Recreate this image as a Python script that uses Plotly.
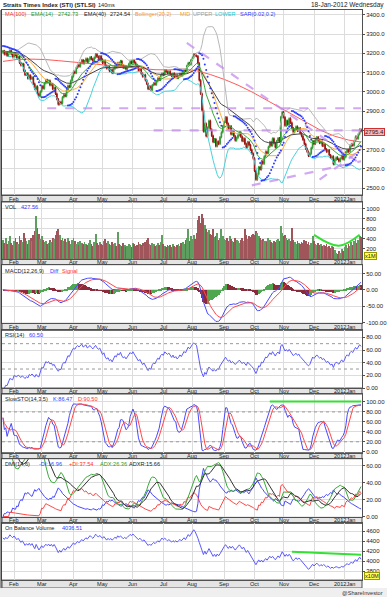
import numpy as np
import pandas as pd
import plotly.graph_objects as go

# ---------------- DATA ----------------
dates = pd.bdate_range("2011-01-20", "2012-01-18")

close = [
    3212, 3195, 3205, 3188, 3200, 3215, 3196, 3180, 3198, 3190,
    3175, 3182, 3150, 3138, 3145, 3110, 3088, 3096, 3070, 3085,
    3068, 3075, 3042, 3015, 3028, 2990, 2978, 3002, 3030, 3018,
    3045, 3062, 3050, 3058, 3035, 3041, 3015, 3022, 2990, 2962,
    2935, 2948, 2940, 2972, 2985, 2978, 3010, 3032, 3025, 3058,
    3080, 3105, 3098, 3125, 3140, 3132, 3150, 3165, 3148, 3160,
    3172, 3155, 3168, 3180, 3170, 3162, 3178, 3195, 3183, 3175,
    3185, 3168, 3150, 3162, 3135, 3122, 3130, 3108, 3115, 3098,
    3120, 3135, 3128, 3150, 3142, 3160, 3138, 3125, 3132, 3118,
    3130, 3145, 3158, 3150, 3165, 3152, 3140, 3128, 3110, 3118,
    3095, 3080, 3088, 3060, 3042, 3015, 3028, 3010, 3035, 3045,
    3038, 3055, 3070, 3062, 3085, 3095, 3088, 3112, 3105, 3098,
    3106, 3090, 3082, 3095, 3078, 3086, 3072, 3080, 3094, 3085,
    3098, 3115, 3108, 3135, 3150, 3142, 3165, 3178, 3195, 3188,
    3185, 3148, 3060, 2990, 2905, 2795, 2835, 2770, 2815, 2850,
    2805, 2772, 2740, 2755, 2718, 2742, 2730, 2765, 2790, 2822,
    2845, 2868, 2835, 2810, 2822, 2780, 2795, 2770, 2748, 2762,
    2775, 2790, 2768, 2745, 2758, 2730, 2712, 2740, 2725, 2700,
    2680, 2655, 2590, 2545, 2572, 2610, 2598, 2640, 2628, 2665,
    2690, 2682, 2715, 2740, 2722, 2758, 2735, 2712, 2745, 2760,
    2742, 2870, 2895, 2868, 2825, 2850, 2830, 2862, 2840, 2812,
    2790, 2805, 2820, 2798, 2812, 2785, 2770, 2752, 2730, 2705,
    2690, 2668, 2680, 2710, 2745, 2730, 2752, 2765, 2748, 2735,
    2742, 2720, 2728, 2702, 2690, 2698, 2672, 2658, 2665, 2625,
    2648, 2660, 2652, 2640, 2655, 2668, 2650, 2662, 2688, 2700,
    2690, 2718, 2730, 2722, 2745, 2768, 2758, 2780, 2805, 2795.4,
]

volume = [
    380, 320, 410, 290, 350, 450, 310, 280, 360, 420,
    340, 300, 460, 380, 330, 520, 410, 350, 300, 380,
    420, 360, 480, 550, 860, 620, 500, 400, 450, 380,
    330, 360, 290, 310, 380, 340, 420, 390, 480, 560,
    600, 470, 380, 420, 360, 390, 330, 410, 350, 300,
    380, 420, 350, 300, 330, 280, 360, 310, 290, 340,
    300, 270, 320, 380, 290, 260, 340, 500, 310, 280,
    330, 300, 280, 350, 390, 320, 360, 300, 270, 340,
    290, 310, 260, 540, 300, 280, 250, 320, 270, 240,
    260, 300, 280, 230, 310, 290, 250, 270, 330, 300,
    280, 310, 260, 340, 380, 420, 300, 280, 320, 290,
    260, 280, 310, 270, 330, 480, 300, 260, 240, 280,
    250, 270, 230, 290, 260, 240, 280, 300, 260, 310,
    340, 290, 380, 420, 600, 360, 450, 400, 480, 390,
    520, 780, 860, 720, 900, 820, 680, 600, 540, 580,
    500, 470, 600, 430, 460, 520, 380, 420, 600, 450,
    400, 380, 420, 350, 460, 390, 360, 340, 410, 380,
    350, 320, 380, 420, 360, 600, 480, 400, 450, 430,
    470, 500, 480, 550, 520, 460, 420, 380, 400, 350,
    360, 330, 420, 380, 340, 310, 360, 330, 380, 400,
    350, 660, 520, 450, 480, 420, 380, 400, 350, 620,
    380, 340, 300, 360, 320, 290, 340, 310, 380, 350,
    300, 330, 280, 310, 450, 360, 300, 280, 320, 270,
    300, 260, 280, 250, 290, 240, 260, 220, 250, 230,
    180, 120, 90, 150, 110, 200, 160, 240, 280, 220,
    300, 260, 340, 280, 360, 400, 320, 380, 450, 427.56,
]

# MA(100) every 10 sessions
ma100_idx = [0, 10, 20, 30, 40, 50, 60, 70, 80, 90, 100, 110, 120, 130,
             140, 150, 160, 170, 180, 190, 200, 210, 220, 230, 240, 250, 259]
ma100_val = [3158, 3168, 3170, 3168, 3162, 3155, 3148, 3142, 3134, 3126, 3120,
             3115, 3114, 3118, 3110, 3090, 3065, 3035, 3000, 2960, 2920, 2880,
             2840, 2800, 2770, 2750, 2740]

first_open = 3205
obv_start = 4470

# hand-drawn lines on the reference (session index, value)
down_tl_x, down_tl_y = [133, 259], [3254, 2625]
up_tl1_x, up_tl1_y = [180, 259], [2515, 2640]
up_tl2_x, up_tl2_y = [229, 259], [2545, 2700]
hz1_x, hz1_y = [32, 259], [2915, 2915]
hz2_x, hz2_y = [109, 259], [2800, 2800]
vol_curve_x, vol_curve_y = [225, 243, 258], [480, 260, 480]
sto_line_x, sto_line_y = [193, 259], [101, 101]
obv_line_x, obv_line_y = [209, 259], [4190, 4130]

month_labels = ["Feb", "Mar", "Apr", "May", "Jun", "Jul", "Aug", "Sep",
                "Oct", "Nov", "Dec", "2012Jan"]

assert len(dates) == len(close) == len(volume) == 260

# ---------------- INDICATORS ----------------
n = len(close)
x = np.arange(n)
c = pd.Series(close, dtype=float)
o = c.shift(1).fillna(first_open)
WICK = 6
hi = np.maximum(o, c) + WICK
lo = np.minimum(o, c) - WICK
v = pd.Series(volume, dtype=float)

ema14 = c.ewm(span=14, adjust=False).mean()
ema40 = c.ewm(span=40, adjust=False).mean()
bb_mid = c.rolling(20, min_periods=5).mean()
bb_std = c.rolling(20, min_periods=5).std(ddof=0)
bb_up = bb_mid + 2 * bb_std
bb_lo = bb_mid - 2 * bb_std


def psar(high, low, af0=0.02, afmax=0.2):
    high = np.asarray(high); low = np.asarray(low)
    m = len(high)
    sar = np.zeros(m)
    bull = False
    af = af0
    ep = low[0]
    sar[0] = high[0] + 20
    for i in range(1, m):
        s = sar[i - 1] + af * (ep - sar[i - 1])
        if bull:
            s = min(s, low[i - 1], low[max(i - 2, 0)])
            if low[i] < s:
                bull = False; s = ep; ep = low[i]; af = af0
            elif high[i] > ep:
                ep = high[i]; af = min(af + af0, afmax)
        else:
            s = max(s, high[i - 1], high[max(i - 2, 0)])
            if high[i] > s:
                bull = True; s = ep; ep = high[i]; af = af0
            elif low[i] < ep:
                ep = low[i]; af = min(af + af0, afmax)
        sar[i] = s
    return sar


sar = psar(hi, lo)

macd = c.ewm(span=12, adjust=False).mean() - c.ewm(span=26, adjust=False).mean()
signal = macd.ewm(span=9, adjust=False).mean()
hist = macd - signal
hist_col = ["#4fa84f" if (i > 0 and hist[i] >= hist[i - 1]) else "#8b2a3a" for i in range(n)]

d = c.diff()
ag = d.clip(lower=0).ewm(alpha=1 / 14, adjust=False).mean()
al = (-d.clip(upper=0)).ewm(alpha=1 / 14, adjust=False).mean()
rsi = 100 - 100 / (1 + ag / al)

hs = pd.Series(hi); ls = pd.Series(lo)
ll = ls.rolling(14, min_periods=1).min()
hh = hs.rolling(14, min_periods=1).max()
fk = 100 * (c - ll) / (hh - ll)
sk = fk.rolling(3, min_periods=1).mean()
sd = sk.rolling(5, min_periods=1).mean()

upm = hs.diff(); dnm = -ls.diff()
pdm = pd.Series(np.where((upm > dnm) & (upm > 0), upm, 0.0))
mdm = pd.Series(np.where((dnm > upm) & (dnm > 0), dnm, 0.0))
pc = c.shift(1)
tr = pd.concat([hs - ls, (hs - pc).abs(), (ls - pc).abs()], axis=1).max(axis=1)
atr = tr.ewm(alpha=1 / 14, adjust=False).mean()
pdi = 100 * pdm.ewm(alpha=1 / 14, adjust=False).mean() / atr
mdi = 100 * mdm.ewm(alpha=1 / 14, adjust=False).mean() / atr
dx = 100 * (pdi - mdi).abs() / (pdi + mdi)
adx = dx.ewm(alpha=1 / 6, adjust=False).mean()
adxr = (adx + adx.shift(6).bfill()) / 2

sign = np.sign(c.diff().fillna(0))
obv = obv_start + (sign * v / 10).cumsum()

up_day = (c >= o).values
vol_col = ["#5e9e5e" if u else "#a0555a" for u in up_day]

# ---------------- LAYOUT ----------------
W, H = 387, 600
FONT = "Liberation Sans"
FS = 6
LFS = 5.6
PX0, PX1 = 2, 362
panels = [(10, 196), (203, 260), (266, 325), (332, 390), (396, 455), (461, 520), (526, 583)]
strip_h = [7, 6, 7, 6, 6, 6, 8]


def px(xp):
    return xp / W


def py(yp):
    return 1 - yp / H


month_pos = [i for i in range(1, n) if dates[i].month != dates[i - 1].month]
grid_c = "#dcdcdc"
frame_c = "#505050"

fig = go.Figure()

# price panel
fig.add_trace(go.Scatter(x=ma100_idx, y=ma100_val, mode="lines", line=dict(color="#ff5a5a", width=1), xaxis="x", yaxis="y"))
fig.add_trace(go.Scatter(x=x, y=bb_up, mode="lines", line=dict(color="#b8b8b8", width=1), xaxis="x", yaxis="y"))
fig.add_trace(go.Scatter(x=x, y=bb_lo, mode="lines", line=dict(color="#46d2dc", width=1), xaxis="x", yaxis="y"))
fig.add_trace(go.Scatter(x=x, y=bb_mid, mode="lines", line=dict(color="#ffae3c", width=1), xaxis="x", yaxis="y"))
fig.add_trace(go.Scatter(x=x, y=ema40, mode="lines", line=dict(color="#454545", width=1), xaxis="x", yaxis="y"))
fig.add_trace(go.Scatter(x=x, y=ema14, mode="lines", line=dict(color="#3aa83a", width=1), xaxis="x", yaxis="y"))
for tx, ty in [(hz1_x, hz1_y), (hz2_x, hz2_y), (down_tl_x, down_tl_y), (up_tl1_x, up_tl1_y), (up_tl2_x, up_tl2_y)]:
    fig.add_trace(go.Scatter(x=tx, y=ty, mode="lines", opacity=0.75,
                             line=dict(color="#c58cf0", width=2.2, dash="dash"), xaxis="x", yaxis="y"))
fig.add_trace(go.Candlestick(x=x, open=o, high=hi, low=lo, close=c,
                             increasing=dict(line=dict(color="#2f9a2f", width=1), fillcolor="#2f9a2f"),
                             decreasing=dict(line=dict(color="#9e1010", width=1), fillcolor="#9e1010"),
                             whiskerwidth=0, xaxis="x", yaxis="y"))
fig.add_trace(go.Scatter(x=x, y=sar, mode="markers", marker=dict(color="#2a3cff", size=2), xaxis="x", yaxis="y"))

# volume
fig.add_trace(go.Bar(x=x, y=v, marker=dict(color=vol_col, line=dict(width=0)), width=0.6, xaxis="x2", yaxis="y2"))
fig.add_trace(go.Scatter(x=vol_curve_x, y=vol_curve_y, mode="lines", line=dict(color="#33e033", width=2, shape="spline"), xaxis="x2", yaxis="y2"))

# MACD
fig.add_trace(go.Bar(x=x, y=hist, marker=dict(color=hist_col, line=dict(width=0)), width=0.7, xaxis="x3", yaxis="y3"))
fig.add_trace(go.Scatter(x=x, y=macd, mode="lines", line=dict(color="#4848ff", width=1), xaxis="x3", yaxis="y3"))
fig.add_trace(go.Scatter(x=x, y=signal, mode="lines", line=dict(color="#ff4848", width=1), xaxis="x3", yaxis="y3"))

# RSI
fig.add_trace(go.Scatter(x=x, y=rsi, mode="lines", line=dict(color="#5a5aff", width=1), xaxis="x4", yaxis="y4"))

# Stoch
fig.add_trace(go.Scatter(x=x, y=sk, mode="lines", line=dict(color="#4848ff", width=1), xaxis="x5", yaxis="y5"))
fig.add_trace(go.Scatter(x=x, y=sd, mode="lines", line=dict(color="#ff4848", width=1), xaxis="x5", yaxis="y5"))
fig.add_trace(go.Scatter(x=sto_line_x, y=sto_line_y, mode="lines", line=dict(color="#33e033", width=2), xaxis="x5", yaxis="y5"))

# DMI
fig.add_trace(go.Scatter(x=x, y=mdi, mode="lines", line=dict(color="#4848ff", width=1), xaxis="x6", yaxis="y6"))
fig.add_trace(go.Scatter(x=x, y=pdi, mode="lines", line=dict(color="#ff4848", width=1), xaxis="x6", yaxis="y6"))
fig.add_trace(go.Scatter(x=x, y=adx, mode="lines", line=dict(color="#3aa83a", width=1), xaxis="x6", yaxis="y6"))
fig.add_trace(go.Scatter(x=x, y=adxr, mode="lines", line=dict(color="#333333", width=1), xaxis="x6", yaxis="y6"))

# OBV
fig.add_trace(go.Scatter(x=x, y=obv, mode="lines", line=dict(color="#5a5aff", width=1), xaxis="x7", yaxis="y7"))
fig.add_trace(go.Scatter(x=obv_line_x, y=obv_line_y, mode="lines", line=dict(color="#33e033", width=2), xaxis="x7", yaxis="y7"))

y_specs = [
    dict(range=[2465, 3425], tickvals=[2500, 2600, 2700, 2800, 2900, 3000, 3100, 3200, 3300, 3400], fmt="%.1f"),
    dict(range=[0, 1140], tickvals=[200, 400, 600, 800, 1000], fmt="%d"),
    dict(range=[-103, 77], tickvals=[-100, -50, 0, 50], fmt="%.2f"),
    dict(range=[0, 91], tickvals=[0, 20, 40, 60, 80], fmt="%.2f"),
    dict(range=[-2, 116], tickvals=[0, 20, 40, 60, 80, 100], fmt="%.2f"),
    dict(range=[-1, 68], tickvals=[0, 20, 40, 60], fmt="%.2f"),
    dict(range=[3620, 4760], tickvals=[3800, 4000, 4200, 4400, 4600], fmt="%d"),
]

layout = dict(width=W, height=H, margin=dict(l=0, r=0, t=0, b=0),
              paper_bgcolor="white", plot_bgcolor="white", showlegend=False,
              font=dict(family=FONT, size=FS, color="#222"), bargap=0)
shapes = []
annotations = []


def label(xp, yp, text, color="#222", anchor="left", bg=None, border=None, bold=False, size=LFS):
    a = dict(xref="paper", yref="paper", x=px(xp), y=py(yp), text=f"<b>{text}</b>" if bold else text,
             showarrow=False, xanchor=anchor, yanchor="middle",
             font=dict(family=FONT, size=size, color=color))
    if bg:
        a.update(bgcolor=bg, bordercolor=border or bg, borderwidth=1, borderpad=0)
    annotations.append(a)


for i, ((t, b), spec) in enumerate(zip(panels, y_specs), start=1):
    xs = "xaxis" if i == 1 else f"xaxis{i}"
    ys = "yaxis" if i == 1 else f"yaxis{i}"
    xa = dict(domain=[px(PX0), px(PX1)], anchor="y" if i == 1 else f"y{i}",
              range=[-0.7, n - 0.3], tickvals=month_pos, showticklabels=False,
              showgrid=True, gridcolor=grid_c, gridwidth=1, zeroline=False,
              showline=True, mirror=True, linecolor=frame_c, linewidth=1,
              ticks="", fixedrange=True, rangeslider=dict(visible=False))
    if i > 1:
        xa["matches"] = "x"
    layout[xs] = xa
    layout[ys] = dict(domain=[py(b), py(t)], anchor="x" if i == 1 else f"x{i}", side="right",
                      range=spec["range"], tickvals=spec["tickvals"],
                      ticktext=[spec["fmt"] % tv for tv in spec["tickvals"]],
                      showgrid=True, gridcolor=grid_c, zeroline=False,
                      showline=True, mirror=True, linecolor=frame_c, linewidth=1,
                      ticks="outside", ticklen=2, tickcolor=frame_c,
                      tickfont=dict(size=FS, color="#222"), fixedrange=True)
    sh = strip_h[i - 1]
    shapes.append(dict(type="rect", xref="paper", yref="paper", x0=px(PX0), x1=px(PX1),
                       y0=py(b + sh), y1=py(b), fillcolor="#e4e4e4",
                       line=dict(color=frame_c, width=1), layer="below"))
    xr = "x" if i == 1 else f"x{i}"
    for mp, ml in zip(month_pos, month_labels):
        annotations.append(dict(xref=xr, yref="paper", x=mp, y=py(b + sh / 2), text=ml,
                                showarrow=False, xanchor="center", yanchor="middle",
                                font=dict(family=FONT, size=LFS, color="#222")))

for lvl in (30, 70):
    shapes.append(dict(type="line", xref="x4 domain", yref="y4", x0=0, x1=1, y0=lvl, y1=lvl,
                       line=dict(color="#999", width=1, dash="dot")))
for lvl in (20, 80):
    shapes.append(dict(type="line", xref="x5 domain", yref="y5", x0=0, x1=1, y0=lvl, y1=lvl,
                       line=dict(color="#999", width=1, dash="dot")))
shapes.append(dict(type="rect", xref="paper", yref="paper", x0=0, x1=1, y0=0, y1=py(591),
                   fillcolor="#efefef", line=dict(width=0), layer="below"))
shapes.append(dict(type="line", xref="paper", yref="paper", x0=px(1), x1=px(1), y0=py(591), y1=py(10),
                   line=dict(color="#333", width=1)))

label(1, 5, "Straits Times Index (STI) (STLSI)", bold=True, size=6)
label(96, 5, "140ms")
label(386, 5, "18-Jan-2012 Wednesday", anchor="right", size=6.5)

row1 = [(3, "MA(100)", "#ff3030"), (29, "EMA(14)", "#2a9a2a"), (56, "2742.73", "#2a9a2a"),
        (82, "EMA(40)", "#222"), (108, "2724.54", "#222"), (133, "Bollinger(20,2)", "#ff9a1a"),
        (178, "MID", "#ff9a1a"), (191, "UPPER", "#a0a0a0"), (213, "LOWER", "#20c8d8"),
        (238, "SAR(0.02,0.2)", "#3040ff")]
for xp, t, col in row1:
    label(xp, 14, t, col)

label(3, 208, "VOL"); label(19, 208, "427.56", "#3040ff")
label(3, 272, "MACD(12,26,9)"); label(48, 272, "Diff", "#3040ff"); label(60, 272, "Signal", "#ff3030")
label(3, 337, "RSI(14)"); label(27, 337, "60.50", "#3040ff")
label(3, 401, "SlowSTO(14,3,5)"); label(51, 401, "K:86.47", "#3040ff"); label(76, 401, "D:90.50", "#ff3030")
label(3, 466, "DMI(14,6)"); label(37, 466, "-DI:16.96", "#3040ff"); label(67, 466, "+DI:37.54", "#ff3030")
label(98, 466, "ADX:26.36", "#2a9a2a"); label(127, 466, "ADXR:15.66", "#222")
label(3, 531, "On Balance Volume"); label(60, 531, "4036.51", "#3040ff")

label(364, 133, "2795.4", "#222", bg="#ffb4b4", border="#d03030", size=FS)
label(364, 257, "x1M", "#222", bg="#ffff55", border="#999900")
label(364, 579, "x10M", "#222", bg="#ffff55", border="#999900")
label(385, 596, "@ShareInvestor", "#333", anchor="right")

layout["shapes"] = shapes
layout["annotations"] = annotations
fig.update_layout(**layout)
fig.write_html("out.html", config={"displayModeBar": False},
               post_script="document.body.style.margin='0px';document.body.style.padding='0px';")
